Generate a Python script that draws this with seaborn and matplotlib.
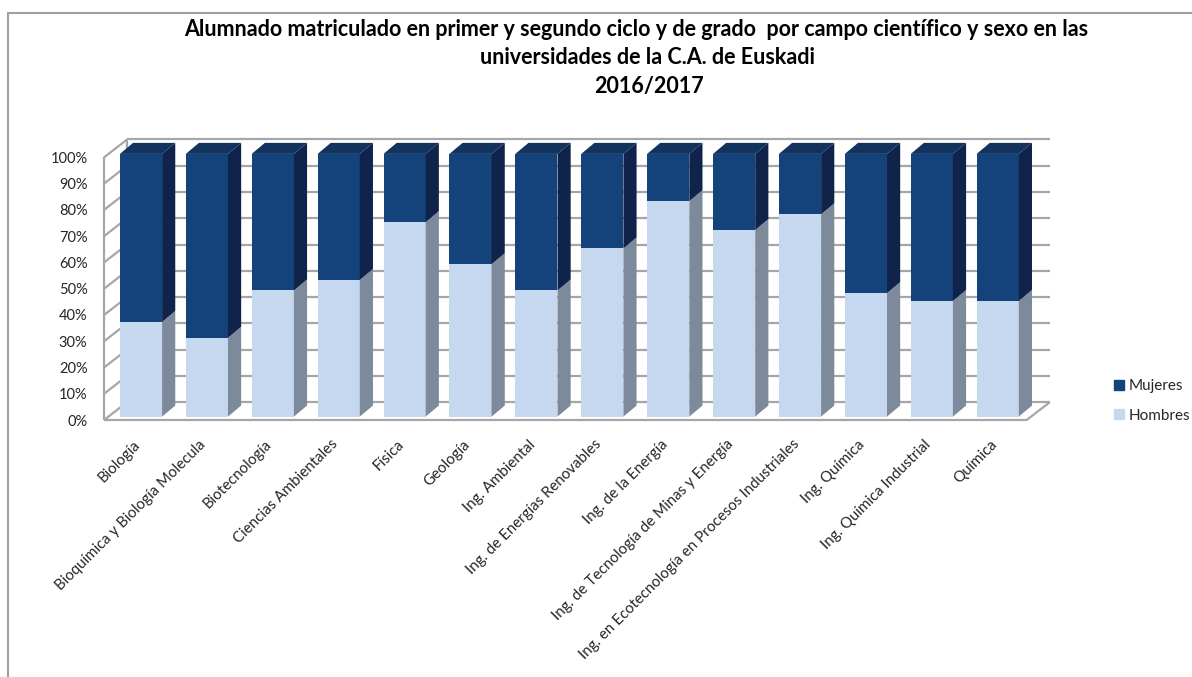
import numpy as np
import pandas as pd
import seaborn as sns
import matplotlib.pyplot as plt
from matplotlib.patches import Polygon, Patch
from matplotlib.lines import Line2D
from matplotlib.transforms import ScaledTranslation

campos = ['Biología', 'Bioquímica y Biología Molecula', 'Biotecnología',
          'Ciencias Ambientales', 'Física', 'Geología', 'Ing. Ambiental',
          'Ing. de Energías Renovables', 'Ing. de la Energía',
          'Ing. de Tecnología de Minas y Energía',
          'Ing. en Ecotecnología en Procesos Industriales', 'Ing. Química',
          'Ing. Química Industrial', 'Química']
hombres = [36, 30, 48, 52, 74, 58, 48, 64, 82, 71, 77, 47, 44, 44]
mujeres = [64, 70, 52, 48, 26, 42, 52, 36, 18, 29, 23, 53, 56, 56]
ticks = list(range(0, 101, 10))
tick_labels = [f'{t}%' for t in ticks]

titulo = ['Alumnado matriculado en primer y segundo ciclo y de grado  por campo científico y sexo en las',
          'universidades de la C.A. de Euskadi',
          '2016/2017']

df = pd.DataFrame({'campo': campos, 'hombres': hombres, 'mujeres': mujeres})
df['total'] = df['hombres'] + df['mujeres']

col_m, side_m, top_m = '#14427A', '#10234A', '#13335F'
col_h, side_h = '#C6D8EF', '#7D8A9B'
grid_col = '#A6A6A6'

sns.set_theme(style='white')
plt.rcParams['font.family'] = ['Lato', 'DejaVu Sans']

W, H = 1192, 677
fig = plt.figure(figsize=(W / 100, H / 100), dpi=100)
ax = fig.add_axes([100 / W, 1 - 420 / H, 960 / W, 290 / H])

bw = 0.64
sns.barplot(data=df, x='campo', y='total', color=col_m, width=bw, saturation=1,
            errorbar=None, linewidth=0, ax=ax, zorder=3)
sns.barplot(data=df, x='campo', y='hombres', color=col_h, width=bw, saturation=1,
            errorbar=None, linewidth=0, ax=ax, zorder=3)

# fake 3D depth of the bars
dx, dy = 0.2, 4.2
for i, (h, t) in enumerate(zip(df['hombres'], df['total'])):
    xl, xr = i - bw / 2, i + bw / 2
    ax.add_patch(Polygon([(xr, 0), (xr + dx, dy), (xr + dx, h + dy), (xr, h)],
                         closed=True, fc=side_h, ec='none', zorder=3))
    ax.add_patch(Polygon([(xr, h), (xr + dx, h + dy), (xr + dx, t + dy), (xr, t)],
                         closed=True, fc=side_m, ec='none', zorder=3))
    ax.add_patch(Polygon([(xl, t), (xl + dx, t + dy), (xr + dx, t + dy), (xr, t)],
                         closed=True, fc=top_m, ec='none', zorder=3))

# walls and floor
wx0, wy0, wdx, wdy = -0.56, -1.3, 0.35, 6.8
xfr = len(campos) - 0.56
kw = dict(color=grid_col, lw=1.6, zorder=1, clip_on=False, solid_capstyle='butt')
for v in ticks:
    ax.plot([wx0 + wdx, xfr + wdx], [v + wy0 + wdy] * 2, **kw)
    ax.plot([wx0, wx0 + wdx], [v + wy0, v + wy0 + wdy], **kw)
ax.plot([wx0, wx0], [wy0, 100 + wy0], **kw)
ax.plot([wx0 + wdx, wx0 + wdx], [wy0 + wdy, 100 + wy0 + wdy], **kw)
ax.plot([wx0, xfr], [wy0, wy0], **kw)
ax.plot([xfr, xfr + wdx], [wy0, wy0 + wdy], **kw)

ax.set_xlim(-0.622, 13.945)
ax.set_ylim(-1.26, 109.1)
for s in ax.spines.values():
    s.set_visible(False)
ax.set_xlabel('')
ax.set_ylabel('')

ax.set_yticks(np.array(ticks) + wy0, tick_labels)
ax.tick_params(axis='y', length=0, pad=9, labelsize=10.5, labelcolor='#262626')
ax.set_xticks(range(len(campos)))
ax.set_xticklabels(campos, rotation=45, ha='right', va='center',
                   rotation_mode='anchor', fontsize=10.8, color='#262626')
ax.tick_params(axis='x', length=0, pad=16)
off = ScaledTranslation(-3 / 100, 0, fig.dpi_scale_trans)
for lab in ax.get_xticklabels():
    lab.set_transform(lab.get_transform() + off)

# title
for txt, cx, cy in zip(titulo, [636, 647, 649], [30, 58, 87]):
    fig.text(cx / W, 1 - cy / H, txt, ha='center', va='center',
             fontsize=15.5, fontweight='bold', color='black')

# legend
handles = [Patch(color=col_m, label='Mujeres'), Patch(color=col_h, label='Hombres')]
fig.legend(handles=handles, loc='center left', bbox_to_anchor=(1100 / W, 1 - 401 / H),
           frameon=False, handlelength=0.65, handleheight=0.65, handletextpad=0.35,
           labelspacing=1.0, fontsize=11)

# outer frame of the chart
fig.add_artist(Line2D([8 / W, 8 / W], [0, 1 - 13 / H], color='#A0A0A0', lw=1.5))
fig.add_artist(Line2D([8 / W, 1], [1 - 13 / H, 1 - 13 / H], color='#A0A0A0', lw=1.5))

fig.savefig('out.png', dpi=100)
